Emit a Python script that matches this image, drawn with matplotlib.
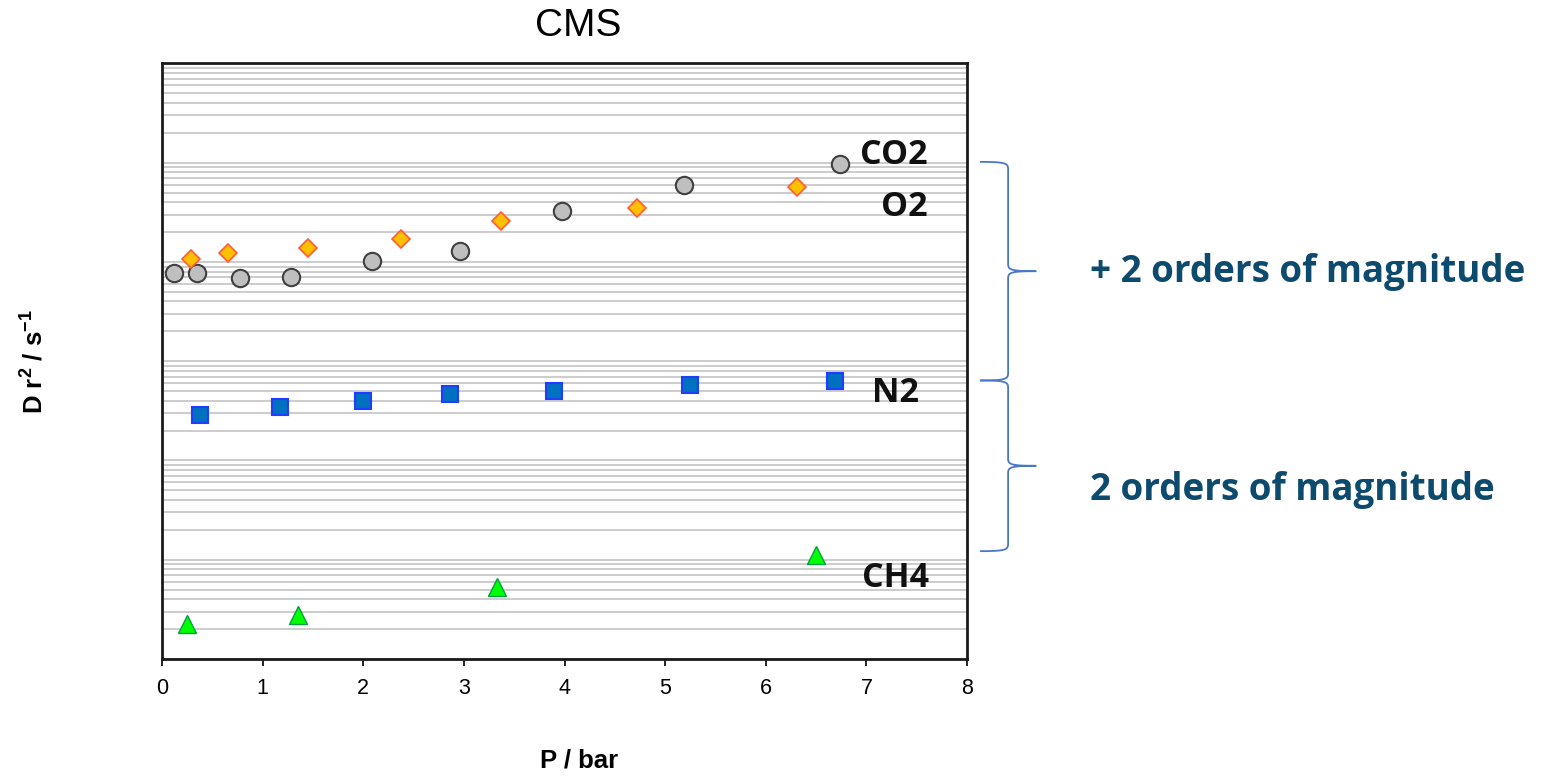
import numpy as np
import matplotlib
matplotlib.use('Agg')
import matplotlib.pyplot as plt
from matplotlib.path import Path
from matplotlib.patches import PathPatch

# pressure (bar) and diffusivity values
p_co2 = [0.12, 0.35, 0.77, 1.28, 2.09, 2.96, 3.97, 5.19, 6.74]
d_co2 = [7.80e-11, 7.80e-11, 6.95e-11, 7.11e-11, 1.02e-10, 1.30e-10, 3.27e-10, 5.97e-10, 9.70e-10]

p_o2 = [0.29, 0.66, 1.45, 2.37, 3.37, 4.72, 6.31]
d_o2 = [1.06e-10, 1.22e-10, 1.37e-10, 1.69e-10, 2.57e-10, 3.50e-10, 5.70e-10]

p_n2 = [0.38, 1.17, 2.00, 2.86, 3.90, 5.25, 6.69]
d_n2 = [2.89e-12, 3.46e-12, 4.00e-12, 4.68e-12, 5.05e-12, 5.77e-12, 6.32e-12]

p_ch4 = [0.25, 1.35, 3.33, 6.50]
d_ch4 = [2.27e-14, 2.77e-14, 5.35e-14, 1.12e-13]

gas_labels = ['CO2', 'O2', 'N2', 'CH4']
label_x = [7.27, 7.38, 7.29, 7.29]
label_y = [1.20e-9, 3.58e-10, 4.79e-12, 6.55e-14]

ylo, yhi = 1e-14, 1e-8

plt.rcParams['font.family'] = ['Liberation Sans', 'DejaVu Sans']
plt.rcParams['mathtext.fontset'] = 'custom'
plt.rcParams['mathtext.rm'] = 'Liberation Sans'
plt.rcParams['mathtext.bf'] = 'Liberation Sans:bold'

fig = plt.figure(figsize=(15.52, 7.77), dpi=100)
ax = fig.add_axes([0.1044, 0.1519, 0.5187, 0.7664])
ax.set_yscale('log')
ax.set_ylim(ylo, yhi)
ax.set_xlim(0, 8)

ax.yaxis.grid(True, which='both', color='#c8c8c8', lw=1.3)
ax.set_axisbelow(True)
ax.tick_params(axis='y', which='both', left=False, labelleft=False)
ax.tick_params(axis='x', direction='out', length=5, width=1.2, labelsize=15.5, pad=9)
for s in ax.spines.values():
    s.set_linewidth(2)
    s.set_color('#1a1a1a')

ax.plot(p_co2, d_co2, 'o', ms=12.5, mfc='#bfbfbf', mec='#404040', mew=1.5, ls='none', zorder=3)
ax.plot(p_o2, d_o2, 'D', ms=9, mfc='#ffc000', mec='#ff5a3c', mew=1.2, ls='none', zorder=3)
ax.plot(p_n2, d_n2, 's', ms=11.5, mfc='#0070c0', mec='#1f3cff', mew=1.5, ls='none', zorder=3)
ax.plot(p_ch4, d_ch4, '^', ms=13, mfc='#00ff00', mec='#00a040', mew=1, ls='none', zorder=3)

for t, x, y in zip(gas_labels, label_x, label_y):
    ax.text(x, y, t, ha='center', va='center', fontsize=24.5, fontweight='bold',
            family=['Open Sans', 'DejaVu Sans'], color='#111111')

ax.set_xlabel('P / bar', fontsize=18.5, fontweight='bold')
ax.xaxis.set_label_coords(0.5175, -0.150)
ax.set_ylabel(r'D r$^{\mathbf{2}}$ / s$^{\mathbf{-1}}$', fontsize=18.5, fontweight='bold')
ax.yaxis.set_label_coords(-0.143, 0.5)

fig.text(0.3724, 0.967, 'CMS', ha='center', va='center', fontsize=28)


def frac(v):
    return (np.log10(v) - np.log10(ylo)) / (np.log10(yhi) - np.log10(ylo))


def brace(y_top, y_bot):
    a, b = frac(y_top), frac(y_bot)
    m = (a + b) / 2
    x0, x1, x2 = 1.016, 1.051, 1.086
    c = 0.012
    verts = [(x0, a), (x1 - 0.004, a), (x1, a - 0.002), (x1, a - c),
             (x1, m + c),
             (x1, m + 0.002), (x1 + 0.004, m), (x2, m),
             (x1 + 0.004, m), (x1, m - 0.002), (x1, m - c),
             (x1, b + c),
             (x1, b + 0.002), (x1 - 0.004, b), (x0, b)]
    codes = [Path.MOVETO, Path.CURVE4, Path.CURVE4, Path.CURVE4,
             Path.LINETO,
             Path.CURVE4, Path.CURVE4, Path.CURVE4,
             Path.CURVE4, Path.CURVE4, Path.CURVE4,
             Path.LINETO,
             Path.CURVE4, Path.CURVE4, Path.CURVE4]
    ax.add_patch(PathPatch(Path(verts, codes), transform=ax.transAxes, fill=False,
                           ec='#4a78c8', lw=1.3, clip_on=False))


brace(1.02e-9, 6.4e-12)
brace(6.4e-12, 1.22e-13)

fig.text(0.702, 0.650, '+ 2 orders of magnitude', ha='left', va='center', fontsize=26.5,
         fontweight='bold', family='Open Sans', color='#0c4a6e')
fig.text(0.702, 0.369, '2 orders of magnitude', ha='left', va='center', fontsize=26.5,
         fontweight='bold', family='Open Sans', color='#0c4a6e')

fig.savefig('out.png', dpi=100)
